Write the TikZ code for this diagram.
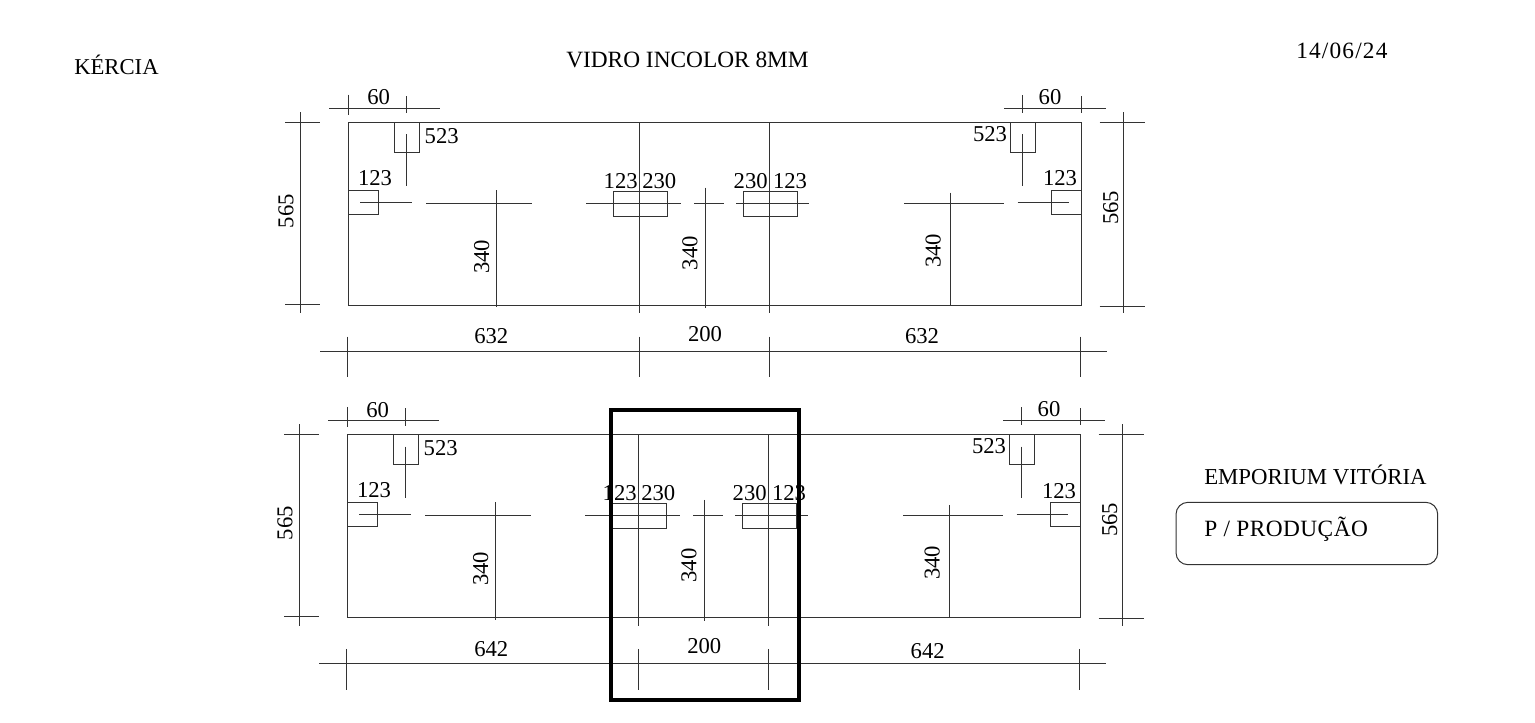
\documentclass[tikz,border=0pt]{standalone}
\usepackage{fontspec}
\setmainfont{Liberation Serif}
\tikzstyle{cut} = [draw=black!80, line width=0.75pt]
\tikzstyle{dim} = [inner sep=0pt, font=\fontsize{17}{18}\selectfont, text=black]
\tikzstyle{dimv} = [dim, rotate=90]
\tikzstyle{head} = [inner sep=0pt, font=\fontsize{17.5}{18}\selectfont, text=black, anchor=base west]
\tikzstyle{callout} = [draw=black, line width=3pt]
% one glass plate, without the widths underneath
\newcommand{\glassplate}{
    \draw [cut] (348.7,122.3) rectangle (1081.3,305.3);
    % holes
    \draw [cut] (394.7,122.3) rectangle (419,152.3);
    \draw [cut] (348.7,190.3) rectangle (378.7,214.7);
    \draw [cut] (613.7,191) rectangle (667.7,216.3);
    \draw [cut] (743.3,191) rectangle (797.3,216.3);
    \draw [cut] (1051.3,190.3) rectangle (1081.3,214.7);
    \draw [cut] (1010.7,122.3) rectangle (1035.3,152.3);
    % centre lines
    \draw [cut] (406.7,134.3) -- (406.7,186);
    \draw [cut] (1022.7,134.3) -- (1022.7,186);
    \draw [cut] (360,202.3) -- (412,202.3);
    \draw [cut] (1017.7,202.3) -- (1069.3,202.3);
    \draw [cut] (426,203) -- (531.7,203);
    \draw [cut] (586,203) -- (680.7,203);
    \draw [cut] (694.3,203) -- (723.7,203);
    \draw [cut] (736,203) -- (808.7,203);
    \draw [cut] (904,203) -- (1003.7,203);
    \draw [cut] (639.7,122.3) -- (639.7,313.3);
    \draw [cut] (769.3,122.3) -- (769.3,313.3);
    \draw [cut] (496.7,190) -- (496.7,307.3);
    \draw [cut] (705.7,187.7) -- (705.7,308.3);
    \draw [cut] (950.7,192.7) -- (950.7,305.3);
    % dimension lines
    \draw [cut] (329.3,108.7) -- (440.3,108.7);
    \draw [cut] (348.7,94.7) -- (348.7,115);
    \draw [cut] (406.7,96) -- (406.7,113.3);
    \draw [cut] (1004.3,108.7) -- (1105.7,108.7);
    \draw [cut] (1022.7,95) -- (1022.7,113);
    \draw [cut] (1081.3,96) -- (1081.3,113);
    \draw [cut] (300,112) -- (300,313.3);
    \draw [cut] (285,122.3) -- (319.7,122.3);
    \draw [cut] (285,304.3) -- (319.7,304.3);
    \draw [cut] (1123.7,112) -- (1123.7,313.3);
    \draw [cut] (1099.7,122.3) -- (1145.3,122.3);
    \draw [cut] (1099.7,306) -- (1145.3,306);
    \draw [cut] (320,351.3) -- (1106.7,351.3);
    \draw [cut] (347.7,336.7) -- (347.7,377.3);
    \draw [cut] (639.7,336.7) -- (639.7,377.3);
    \draw [cut] (769.3,336.7) -- (769.3,377.3);
    \draw [cut] (1080.3,336.7) -- (1080.3,377.3);
    % labels
    \node [dim] (sixtyl) at (378.7,97.3) {60};
    \node [dim] (sixtyr) at (1050,97) {60};
    \node [dim] (holetl) at (441.7,136) {523};
    \node [dim] (holetr) at (990,134) {523};
    \node [dim] (holel) at (375,178.3) {123};
    \node [dim] (holer) at (1060,178.5) {123};
    \node [dim] (midal) at (620.7,181) {123};
    \node [dim] (midbl) at (659.3,181) {230};
    \node [dim] (midbr) at (750.7,181) {230};
    \node [dim] (midar) at (790,181) {123};
    \node [dimv] (heightl) at (286,211) {565};
    \node [dimv] (heightr) at (1110.7,207.7) {565};
    \node [dimv] (depthl) at (481.7,256.7) {340};
    \node [dimv] (depthm) at (690,253.3) {340};
    \node [dimv] (depthr) at (933.3,250.7) {340};
}
\begin{document}
\begin{tikzpicture}[x=0.75pt, y=-0.75pt]
    \useasboundingbox (0,0) rectangle (1535,722);
    \node [head] (client) at (74,74) {\fontsize{17}{18}\selectfont KÉRCIA};
    \node [head] (glass) at (566,67) {VIDRO INCOLOR 8MM};
    \node [head] (date) at (1296,58.5) {\addfontfeature{LetterSpace=5}14/06/24};
    \begin{scope}[name prefix=top-]
        \glassplate
    \end{scope}
    \begin{scope}[name prefix=low-, shift={(-0.75pt,-234.2pt)}]
        \glassplate
    \end{scope}
    \node [dim] (widthtl) at (491.3,336) {632};
    \node [dim] (widthtm) at (705,334) {200};
    \node [dim] (widthtr) at (922,336) {632};
    \node [dim] (widthll) at (491.3,648.7) {642};
    \node [dim] (widthlm) at (704.3,646) {200};
    \node [dim] (widthlr) at (927.7,651) {642};
    \node [head] (shop) at (1204,484) {\fontsize{17.1}{18}\selectfont EMPORIUM VITÓRIA};
    \node [head] (prod) at (1204,536.7) {\addfontfeature{LetterSpace=2}P / PRODUÇÃO};
    \draw [cut, rounded corners=9pt] (1176,502.3) rectangle (1437.7,564.7);
    \draw [callout] (611.3,410.3) rectangle (798.7,700.3);
\end{tikzpicture}
\end{document}
